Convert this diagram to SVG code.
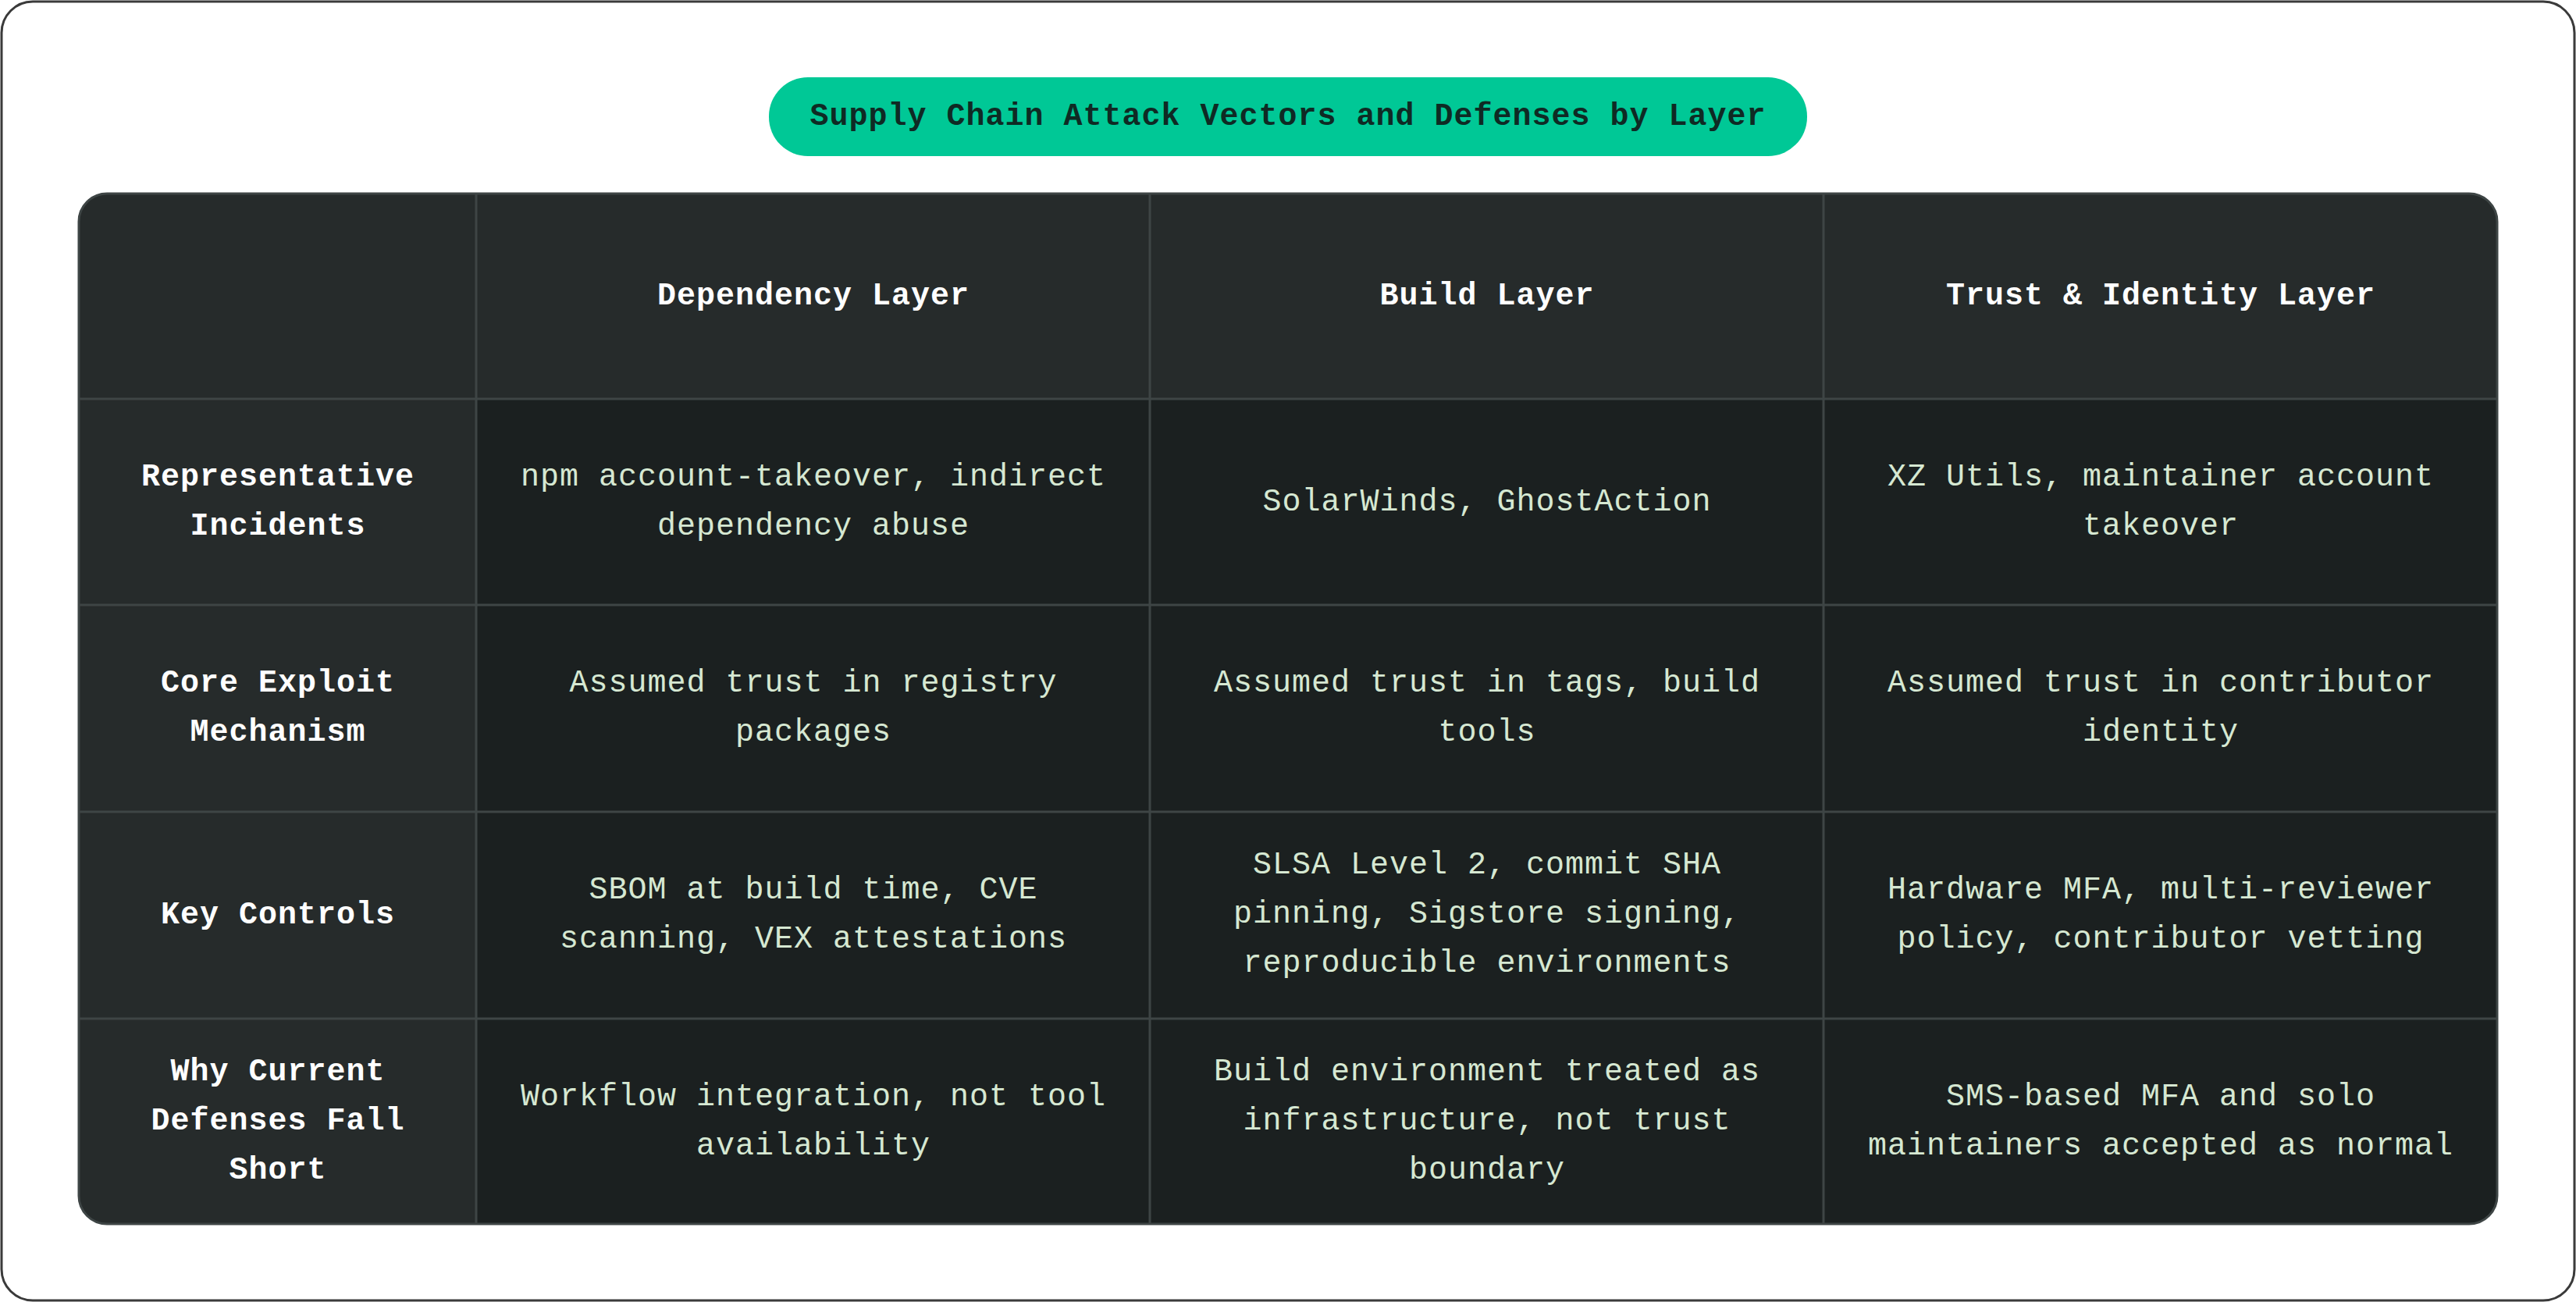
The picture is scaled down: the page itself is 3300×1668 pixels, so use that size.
<svg xmlns="http://www.w3.org/2000/svg" width="3300" height="1668" viewBox="0 0 3300 1668">
<style>
text{font-family:"Liberation Mono","DejaVu Sans Mono",monospace;font-size:40px;letter-spacing:1px;text-anchor:middle;dominant-baseline:central}
.h{fill:#ffffff;font-weight:bold}
.b{fill:#d6e8d2}
.t{fill:#0f2a24;font-weight:bold}
.hd{fill:#262b2b}
.bd{fill:#1b2020}
.g{stroke:#3e4545;stroke-width:3;fill:none}
</style>
<defs><clipPath id="tc"><rect x="101" y="248" width="3098" height="1320" rx="36"/></clipPath></defs>
<rect x="2" y="2" width="3296" height="1664" rx="40" fill="#ffffff" stroke="#3a3a3a" stroke-width="3"/>
<g id="title"><rect x="985" y="99" width="1330" height="101" rx="50" fill="#00c896"/><text class="t" x="1650" y="149">Supply Chain Attack Vectors and Defenses by Layer</text></g>
<g id="table">
<g clip-path="url(#tc)">
<rect class="bd" x="101" y="248" width="3098" height="1320"/>
<rect class="hd" x="101" y="248" width="3098" height="263"/>
<rect class="hd" x="101" y="248" width="509" height="1320"/>
</g>
<g id="grid" class="g">
<path d="M610 248V1568M1473 248V1568M2336 248V1568M101 511H3199M101 775H3199M101 1040H3199M101 1305H3199"/>
<rect x="101" y="248" width="3098" height="1320" rx="36"/>
</g>
</g>
<g id="header">
<text class="h" x="1042" y="379">Dependency Layer</text>
<text class="h" x="1905" y="379">Build Layer</text>
<text class="h" x="2768" y="379">Trust &amp; Identity Layer</text>
</g>
<g id="row1">
<text class="h" x="356" y="611">Representative</text><text class="h" x="356" y="674">Incidents</text>
<text class="b" x="1042" y="611">npm account-takeover, indirect</text><text class="b" x="1042" y="674">dependency abuse</text>
<text class="b" x="1905" y="643">SolarWinds, GhostAction</text>
<text class="b" x="2768" y="611">XZ Utils, maintainer account</text><text class="b" x="2768" y="674">takeover</text>
</g>
<g id="row2">
<text class="h" x="356" y="875">Core Exploit</text><text class="h" x="356" y="938">Mechanism</text>
<text class="b" x="1042" y="875">Assumed trust in registry</text><text class="b" x="1042" y="938">packages</text>
<text class="b" x="1905" y="875">Assumed trust in tags, build</text><text class="b" x="1905" y="938">tools</text>
<text class="b" x="2768" y="875">Assumed trust in contributor</text><text class="b" x="2768" y="938">identity</text>
</g>
<g id="row3">
<text class="h" x="356" y="1172">Key Controls</text>
<text class="b" x="1042" y="1140">SBOM at build time, CVE</text><text class="b" x="1042" y="1203">scanning, VEX attestations</text>
<text class="b" x="1905" y="1108">SLSA Level 2, commit SHA</text><text class="b" x="1905" y="1171">pinning, Sigstore signing,</text><text class="b" x="1905" y="1234">reproducible environments</text>
<text class="b" x="2768" y="1140">Hardware MFA, multi-reviewer</text><text class="b" x="2768" y="1203">policy, contributor vetting</text>
</g>
<g id="row4">
<text class="h" x="356" y="1373">Why Current</text><text class="h" x="356" y="1436">Defenses Fall</text><text class="h" x="356" y="1499">Short</text>
<text class="b" x="1042" y="1405">Workflow integration, not tool</text><text class="b" x="1042" y="1468">availability</text>
<text class="b" x="1905" y="1373">Build environment treated as</text><text class="b" x="1905" y="1436">infrastructure, not trust</text><text class="b" x="1905" y="1499">boundary</text>
<text class="b" x="2768" y="1405">SMS-based MFA and solo</text><text class="b" x="2768" y="1468">maintainers accepted as normal</text>
</g>
</svg>
